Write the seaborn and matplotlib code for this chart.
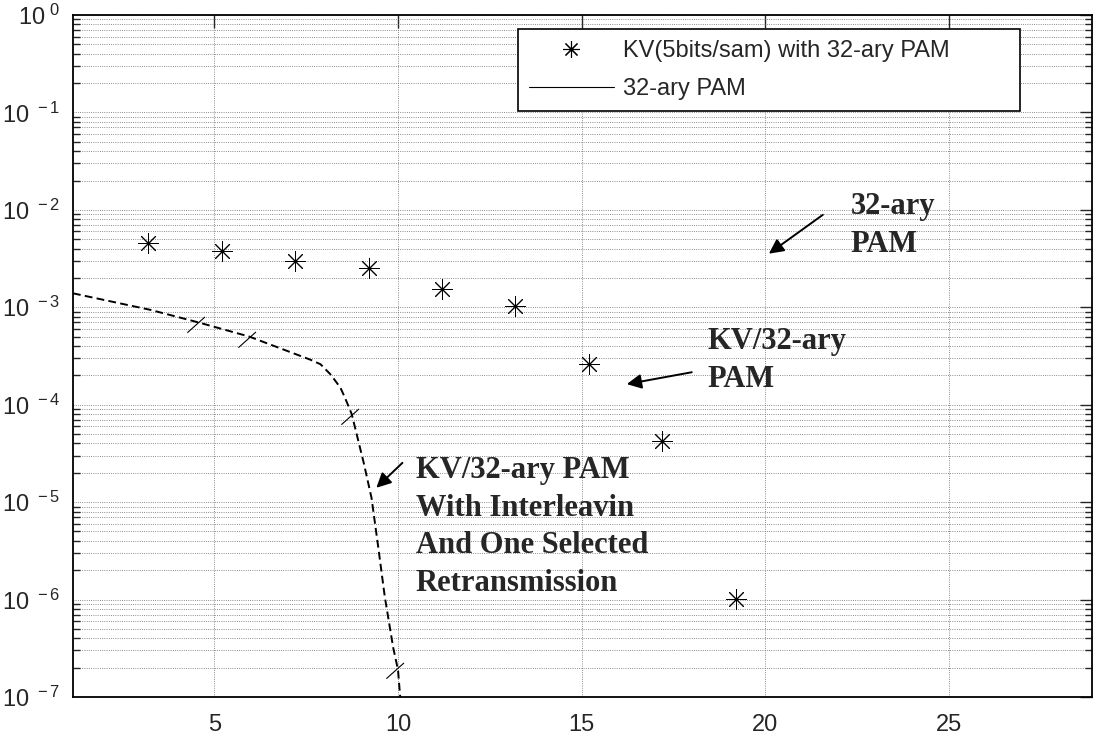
import matplotlib
matplotlib.use('Agg')
import matplotlib.pyplot as plt
from matplotlib.lines import Line2D
from matplotlib.path import Path
from matplotlib.ticker import LogLocator, NullFormatter
import seaborn as sns

# star points: KV(5bits/sam) with 32-ary PAM
kv_snr = [3.2, 5.2, 7.2, 9.2, 11.2, 13.2, 15.2, 17.2, 19.2]
kv_ber = [4.6e-3, 3.8e-3, 3.0e-3, 2.5e-3, 1.55e-3, 1.02e-3, 2.6e-4, 4.2e-5, 1.02e-6]

# dashed curve: KV/32-ary PAM with interleaving and one selected retransmission
il_snr = [1.15, 3.26, 4.56, 5.95, 7.61, 7.89, 8.16, 8.43, 8.56, 8.74,
          9.07, 9.28, 9.46, 9.64, 9.87, 10.0, 10.06]
il_ber = [1.39e-3, 9.4e-4, 7.0e-4, 5.0e-4, 2.9e-4, 2.6e-4, 2.05e-4, 1.5e-4, 1.17e-4, 8.0e-5,
          2.5e-5, 1.1e-5, 3.5e-6, 1.07e-6, 3.2e-7, 1.9e-7, 1.0e-7]

# small slanted marks on the dashed curve
mark_snr = [4.56, 5.95, 8.74, 9.97]
mark_ber = [7.0e-4, 5.0e-4, 8.0e-5, 2.0e-7]

legend_labels = ['KV(5bits/sam) with 32-ary PAM', '32-ary PAM']
x_ticks = [5, 10, 15, 20, 25]
y_exponents = [0, -1, -2, -3, -4, -5, -6, -7]

sns.set_style('white')
plt.rcParams['font.family'] = ['Liberation Sans', 'DejaVu Sans']
plt.rcParams['mathtext.default'] = 'regular'

fig = plt.figure(figsize=(10.93, 7.38), dpi=100)
ax = fig.add_axes([0.0668, 0.0556, 0.9323, 0.9241])

star = (8, 2, 0)
sns.scatterplot(x=kv_snr, y=kv_ber, marker=star, s=200, color='k', linewidth=0.7, ax=ax, zorder=4)
sns.lineplot(x=il_snr, y=il_ber, sort=False, color='k', lw=1.4, dashes=False, ax=ax, zorder=3)
ax.lines[-1].set_dashes((4, 2.2))
slash = Path([(-0.6, -0.55), (0.35, 0.3)])
ax.plot(mark_snr, mark_ber, linestyle='none', marker=slash, markersize=16, color='k', mew=0.8, zorder=3)

ax.set_yscale('log')
ax.set_xlim(1.15, 28.9)
ax.set_ylim(1e-7, 0.94)
ax.set_xticks(x_ticks)
ax.set_xticklabels([str(t) for t in x_ticks])
ax.set_yticks([10.0 ** e for e in y_exponents])
ax.set_yticklabels([rf'$10^{{\ {e}}}$' for e in y_exponents])
ax.yaxis.set_minor_locator(LogLocator(base=10, subs=range(2, 10), numticks=20))
ax.yaxis.set_minor_formatter(NullFormatter())

ax.tick_params(axis='both', which='major', direction='in', length=9, width=1, labelsize=17,
               top=True, right=True)
ax.tick_params(axis='y', which='minor', direction='in', length=5, width=1, left=True, right=True)
ax.tick_params(axis='x', which='major', pad=12)
ax.tick_params(axis='y', which='major', pad=9)

ax.grid(True, which='major', axis='x', color='0.4', lw=0.6, linestyle=':')
ax.grid(True, which='both', axis='y', color='0.4', lw=0.6, linestyle=':')
for s in ax.spines.values():
    s.set_color('k')
    s.set_linewidth(1.3)

handles = [Line2D([], [], marker=star, linestyle='none', color='k', markersize=12, mew=0.8),
           Line2D([], [], color='k', lw=0.8)]
leg = ax.legend(handles, legend_labels, loc='upper left', bbox_to_anchor=(0.437, 0.859, 0.492, 0.12),
                mode='expand', borderaxespad=0, fontsize=17, handlelength=3.6, handletextpad=0.4,
                labelspacing=0.7, borderpad=0.45, fancybox=False, framealpha=1, edgecolor='k')
leg.get_frame().set_linewidth(1.2)
leg.set_zorder(10)

serif = dict(family=['Liberation Serif', 'DejaVu Serif'], fontsize=22, fontweight='bold',
             ha='left', va='center', linespacing=1.4)
arrow = dict(arrowstyle='-|>', color='k', lw=1.4, mutation_scale=22, shrinkA=0, shrinkB=0)

ax.text(22.33, 10 ** -2.16, '32-ary\nPAM', **serif)
ax.annotate('', xy=(20.10, 10 ** -2.450), xytext=(21.57, 10 ** -2.051), arrowprops=arrow)

ax.text(18.43, 10 ** -3.55, 'KV/32-ary\nPAM', **serif)
ax.annotate('', xy=(16.23, 10 ** -3.789), xytext=(18.0, 10 ** -3.667), arrowprops=arrow)

ax.text(10.48, 10 ** -5.255, 'KV/32-ary PAM\nWith Interleavin\nAnd One Selected\nRetransmission', **serif)
ax.annotate('', xy=(9.41, 10 ** -4.853), xytext=(10.12, 10 ** -4.597), arrowprops=arrow)

fig.savefig('out.png', dpi=100)
